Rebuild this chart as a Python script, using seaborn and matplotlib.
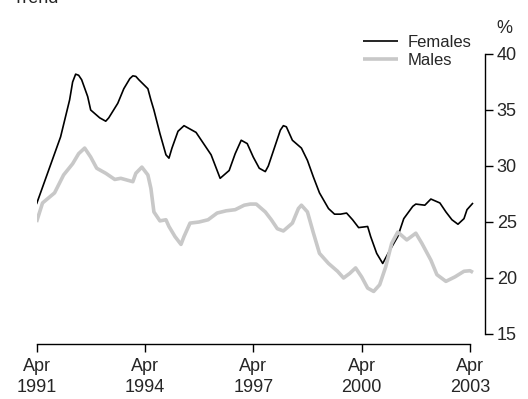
import matplotlib
matplotlib.use("Agg")
import matplotlib.pyplot as plt
import seaborn as sns
import pandas as pd
import numpy as np

# Data: months since Apr 1991, and trend values (%)
fem_months = [0, 4, 8, 11, 12, 13, 14, 15, 17, 18, 21, 23, 24, 27, 29, 31, 32, 33, 34, 37, 38, 39,
              41, 43, 44, 45, 47, 49, 51, 53, 55, 58, 60, 61, 64, 66, 68, 70, 72, 74, 76, 77,
              79, 81, 82, 83, 85, 88, 90, 92, 94, 97, 99, 101, 103, 105, 107, 110, 111, 113,
              115, 117, 120, 122, 125, 126, 129, 131, 134, 136, 138, 140, 142, 143, 145]
fem_values = [26.6, 29.6, 32.6, 35.9, 37.5, 38.2, 38.1, 37.7, 36.2, 35.0, 34.3, 34.0, 34.3, 35.6, 36.9,
              37.8, 38.05, 38.0, 37.7, 36.9, 35.9, 35.0, 32.9, 31.0, 30.7, 31.6, 33.1, 33.6, 33.3, 33.0,
              32.2, 31.0, 29.6, 28.9, 29.6, 31.1, 32.3, 32.0, 30.8, 29.8, 29.5, 30.0, 31.6, 33.2,
              33.6, 33.5, 32.3, 31.6, 30.5, 29.0, 27.6, 26.2, 25.7, 25.7, 25.8, 25.2, 24.5, 24.6,
              23.7, 22.2, 21.3, 22.3, 23.7, 25.3, 26.4, 26.6, 26.5, 27.05, 26.7, 25.9, 25.2, 24.8,
              25.3, 26.1, 26.7]

male_months = [0, 2, 6, 9, 12, 14, 16, 18, 20, 23, 26, 28, 32, 33, 35, 37, 38, 39, 41, 43,
               44, 46, 48, 49, 51, 54, 57, 60, 63, 66, 69, 71, 73, 76, 78, 80, 82, 85, 87, 88,
               90, 92, 94, 97, 100, 102, 104, 106, 108, 110, 112, 114, 116, 118, 120, 123, 126,
               128, 131, 133, 136, 139, 142, 144, 145]
male_values = [25.0, 26.7, 27.6, 29.2, 30.2, 31.1, 31.6, 30.8, 29.8, 29.35, 28.8, 28.9, 28.6,
               29.35, 29.9, 29.2, 28.0, 25.9, 25.1, 25.2, 24.6, 23.7, 23.0, 23.7, 24.9, 25.0,
               25.2, 25.8, 26.0, 26.1, 26.5, 26.6, 26.6, 25.9, 25.2, 24.4, 24.2, 24.9, 26.2,
               26.5, 25.9, 24.0, 22.2, 21.3, 20.6, 20.0, 20.4, 20.9, 20.1, 19.1, 18.8, 19.4,
               21.0, 23.1, 24.1, 23.4, 24.0, 23.1, 21.6, 20.3, 19.7, 20.1, 20.6, 20.65, 20.5]

tick_months = [0, 36, 72, 108, 144]
tick_labels = ["Apr\n1991", "Apr\n1994", "Apr\n1997", "Apr\n2000", "Apr\n2003"]
y_ticks = [15, 20, 25, 30, 35, 40]

df = pd.concat([
    pd.DataFrame({"month": fem_months, "value": fem_values, "series": "Females"}),
    pd.DataFrame({"month": male_months, "value": male_values, "series": "Males"}),
])

sns.set_style("white")
plt.rcParams["font.family"] = ["Liberation Sans", "DejaVu Sans"]

W, H = 528, 399
x_left, x_right = 36.5, 485
y_top, y_bot = 54, 334
fig = plt.figure(figsize=(W / 100, H / 100), dpi=100)
ax = fig.add_axes([x_left / W, 1 - y_bot / H, (x_right - x_left) / W, (y_bot - y_top) / H])

sns.lineplot(data=df, x="month", y="value", hue="series", size="series",
             palette={"Females": "#000000", "Males": "#c8c8c8"},
             sizes={"Females": 1.2, "Males": 2.6}, ax=ax, legend=True)
for ln in ax.get_lines():
    ln.set_solid_joinstyle("round")
    ln.set_solid_capstyle("butt")

xmax = (x_right - x_left) / ((470 - x_left) / 144)
ax.set_xlim(0, xmax)
ax.set_ylim(15, 40)
ax.set_xlabel("")
ax.set_ylabel("")

for s in ["top", "left"]:
    ax.spines[s].set_visible(False)
for s in ["bottom", "right"]:
    ax.spines[s].set_visible(True)
    ax.spines[s].set_color("black")
    ax.spines[s].set_linewidth(1.0)
ax.spines["bottom"].set_position(("outward", 7.2))
ax.spines["bottom"].set_bounds(0, 144)
ax.spines["right"].set_bounds(15, 40)

ax.set_xticks(tick_months)
ax.set_xticklabels(tick_labels, fontsize=13, linespacing=1.3)
ax.set_yticks(y_ticks)
ax.set_yticklabels([str(v) for v in y_ticks], fontsize=13)
ax.tick_params(axis="x", direction="out", length=5.8, width=1, color="black",
               bottom=True, top=False, pad=4.5)
ax.tick_params(axis="y", direction="out", length=5.5, width=1, color="black",
               left=False, right=True, labelleft=False, labelright=True, pad=3)

handles, labels = ax.get_legend_handles_labels()
ax.legend(handles[-2:] if len(handles) > 2 else handles, ["Females", "Males"],
          loc="upper left", bbox_to_anchor=(363 / W, 1 - 35 / H),
          bbox_transform=fig.transFigure, frameon=False, borderpad=0, borderaxespad=0,
          fontsize=12, handlelength=2.1, handletextpad=0.6, labelspacing=0.2)

fig.text(504 / W, 1 - 33 / H, "%", fontsize=13, ha="center", va="baseline")
fig.text(13 / W, 1 - 3 / H, "Trend", fontsize=13, ha="left", va="baseline")

fig.savefig("out.png", dpi=100)
